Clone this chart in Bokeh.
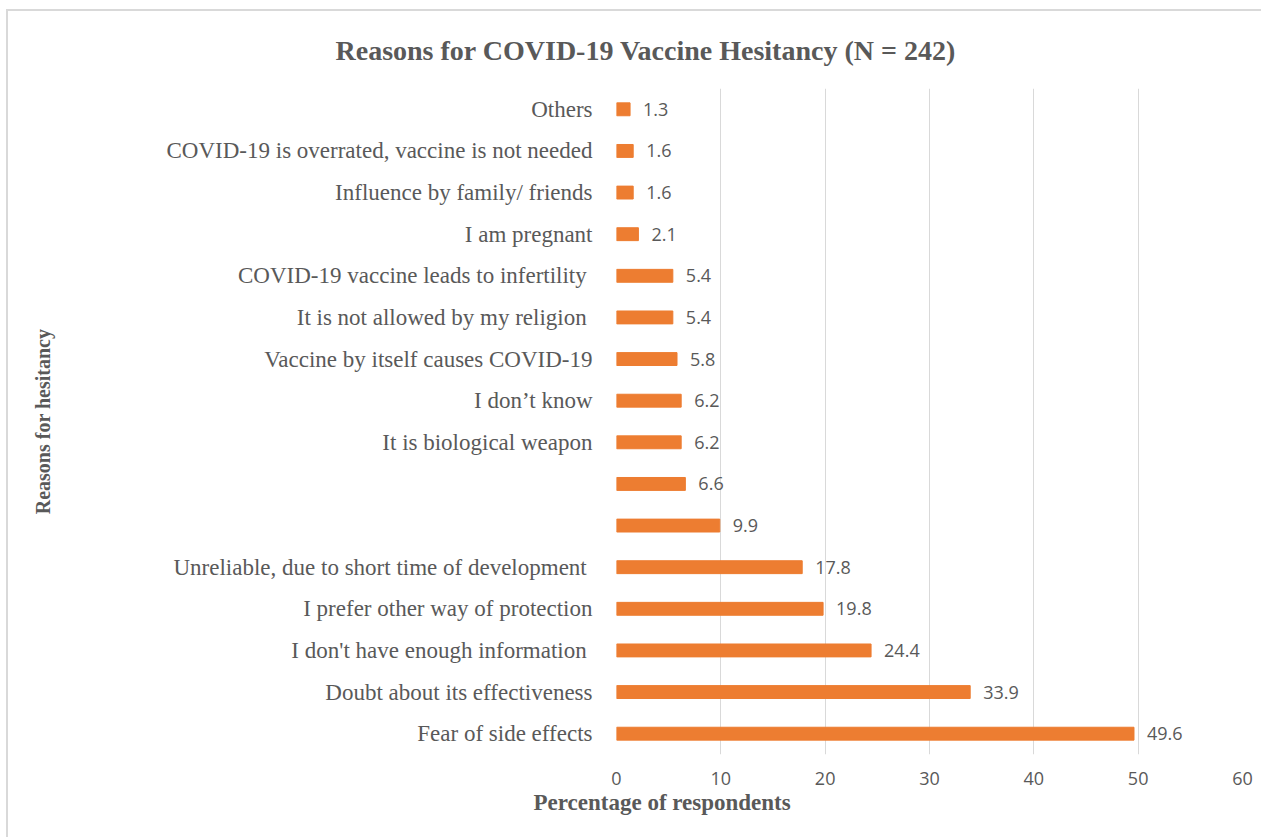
from bokeh.plotting import figure
from bokeh.models import ColumnDataSource, Title, FixedTicker, Range1d, FactorRange
from bokeh.core.properties import value
from bokeh.embed import file_html
from bokeh.resources import INLINE

# ---- data (bottom to top) ----
reasons = [
    "Fear of side effects",
    "Doubt about its effectiveness",
    "I don't have enough information ",
    "I prefer other way of protection",
    "Unreliable, due to short time of development ",
    " ",
    "  ",
    "It is biological weapon",
    "I don\u2019t know",
    "Vaccine by itself causes COVID-19",
    "It is not allowed by my religion ",
    "COVID-19 vaccine leads to infertility ",
    "I am pregnant",
    "Influence by family/ friends",
    "COVID-19 is overrated, vaccine is not needed",
    "Others",
]
percent = [49.6, 33.9, 24.4, 19.8, 17.8, 9.9, 6.6, 6.2, 6.2, 5.8, 5.4, 5.4, 2.1, 1.6, 1.6, 1.3]
value_labels = ["49.6", "33.9", "24.4", "19.8", "17.8", "9.9", "6.6", "6.2", "6.2", "5.8", "5.4", "5.4", "2.1", "1.6", "1.6", "1.3"]
x_ticks = [0, 10, 20, 30, 40, 50, 60]

title_text = "Reasons for COVID-19 Vaccine Hesitancy (N = 242)"
x_label = "Percentage of respondents"
y_label = "Reasons for hesitancy"

TEXT = "#595959"
BAR = "#ED7D31"
GRID = "#D9D9D9"

src = ColumnDataSource(dict(reason=reasons, pct=percent, lab=value_labels))

p = figure(
    width=1255, height=828,
    x_range=Range1d(0, 60),
    y_range=FactorRange(factors=reasons, range_padding=0),
    output_backend="svg", toolbar_location=None,
    min_border_left=608, min_border_right=21,
    min_border_top=77, min_border_bottom=85,
)
p.styles = {"border-left": "2px solid #D9D9D9", "border-top": "2px solid #D9D9D9",
            "margin-left": "6px", "margin-top": "9px"}

p.hbar(y="reason", left=0, right="pct", height=0.31, source=src,
       fill_color=BAR, line_color=BAR)
p.text(x="pct", y="reason", text="lab", source=src, x_offset=13,
       text_align="left", text_baseline="middle",
       text_font=value("Open Sans"), text_font_size="18px", text_color=TEXT)

# title
t = Title(text=title_text, align="left", offset=-281, standoff=41,
          vertical_align="top",
          text_font="Liberation Serif", text_font_size="28px",
          text_font_style="bold", text_color=TEXT)
p.add_layout(t, "above")

# x-axis label as a title below
xt = Title(text=x_label, align="left", offset=-83, standoff=0,
           text_font="Liberation Serif", text_font_size="23px",
           text_font_style="bold", text_color=TEXT)
p.add_layout(xt, "below")

p.outline_line_color = None
p.ygrid.grid_line_color = None
p.xgrid.grid_line_color = GRID
p.xgrid.grid_line_width = 1

p.xaxis.ticker = FixedTicker(ticks=x_ticks)
p.xaxis.axis_line_color = None
p.xaxis.major_tick_line_color = None
p.xaxis.minor_tick_line_color = None
p.xaxis.major_label_standoff = 11
p.xaxis.major_label_text_font = "Open Sans"
p.xaxis.major_label_text_font_size = "18px"
p.xaxis.major_label_text_color = TEXT

p.yaxis.axis_line_color = None
p.yaxis.major_tick_line_color = None
p.yaxis.minor_tick_line_color = None
p.yaxis.major_label_standoff = 18
p.yaxis.major_label_text_font = "Liberation Serif"
p.yaxis.major_label_text_font_size = "23px"
p.yaxis.major_label_text_color = TEXT
p.yaxis.axis_label = y_label
p.yaxis.axis_label_standoff = 110
p.yaxis.axis_label_text_font = "Liberation Serif"
p.yaxis.axis_label_text_font_size = "20px"
p.yaxis.axis_label_text_font_style = "bold"
p.yaxis.axis_label_text_color = TEXT

open("out.html", "w").write(file_html(p, INLINE))
